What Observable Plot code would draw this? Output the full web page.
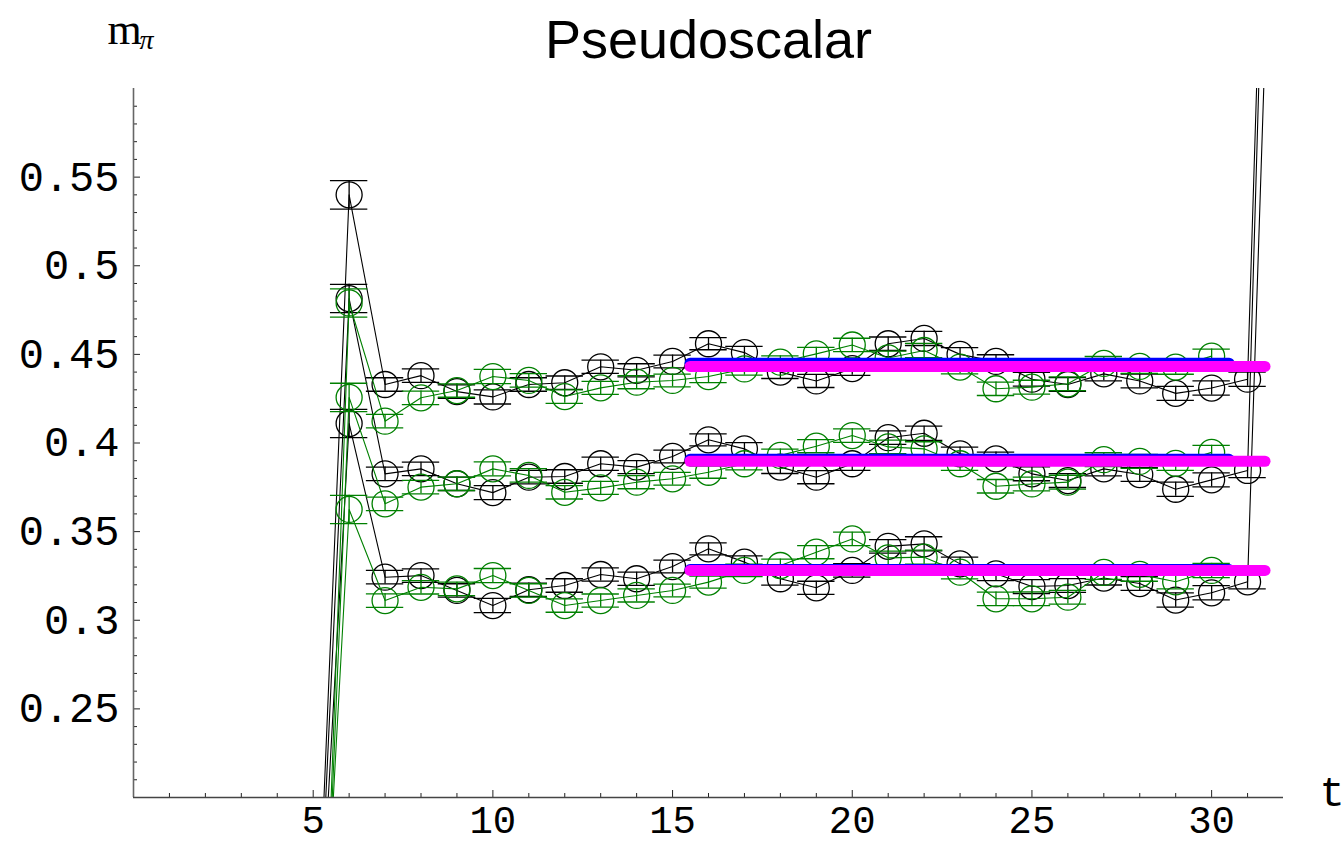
<!DOCTYPE html>
<html><head><meta charset="utf-8">
<script src="https://cdn.jsdelivr.net/npm/d3@7"></script>
<script src="https://cdn.jsdelivr.net/npm/@observablehq/plot@0.6"></script>
<style>body{margin:0;background:#fff;}#chart svg{display:block;}</style>
</head><body><div id="chart"></div>
<script>
// ---- data ----
const tBlack = d3.range(5, 33);   // t = 5 .. 32
const tGreen = d3.range(5, 31);   // t = 5 .. 30

const blackTop = [0.054, 0.540, 0.433, 0.438, 0.429, 0.426, 0.433, 0.434, 0.443, 0.441, 0.446, 0.456, 0.451, 0.440, 0.435, 0.442, 0.456, 0.459, 0.450, 0.446, 0.436, 0.433, 0.439, 0.435, 0.428, 0.431, 0.436, 1.09];
const blackMid = [0.048, 0.4815, 0.3826, 0.3854, 0.377, 0.372, 0.3807, 0.3811, 0.3883, 0.3864, 0.3924, 0.4018, 0.3967, 0.3864, 0.3807, 0.3883, 0.403, 0.4055, 0.3939, 0.3911, 0.3826, 0.3788, 0.3854, 0.3822, 0.3739, 0.3792, 0.3845, 1.08];
const blackLow = [0.047, 0.411, 0.3243, 0.3252, 0.3168, 0.3083, 0.3172, 0.3196, 0.3258, 0.3234, 0.3303, 0.3403, 0.3328, 0.3234, 0.3183, 0.3281, 0.3417, 0.3431, 0.3318, 0.3262, 0.319, 0.3196, 0.3238, 0.3207, 0.3114, 0.3155, 0.3217, 0.94];

const greenTop = [-0.079, 0.479, 0.4123, 0.4255, 0.4296, 0.4375, 0.4353, 0.4262, 0.4311, 0.4343, 0.4353, 0.4375, 0.4418, 0.4456, 0.4503, 0.4553, 0.448, 0.4522, 0.4428, 0.4306, 0.4315, 0.4334, 0.4449, 0.4432, 0.4428, 0.449];
const greenMid = [-0.055, 0.4257, 0.3657, 0.3751, 0.377, 0.3854, 0.3817, 0.3722, 0.3747, 0.3779, 0.3798, 0.3835, 0.3883, 0.393, 0.3982, 0.4042, 0.3978, 0.3967, 0.3883, 0.3756, 0.3769, 0.3779, 0.3906, 0.3896, 0.3885, 0.3947];
const greenLow = [-0.007, 0.3625, 0.3111, 0.3186, 0.3177, 0.3252, 0.3168, 0.3083, 0.3111, 0.314, 0.3168, 0.3215, 0.3281, 0.3309, 0.3384, 0.3459, 0.3352, 0.3356, 0.3271, 0.3121, 0.3121, 0.313, 0.327, 0.3259, 0.3217, 0.3281];

// error bar half-size for t = 5 .. 32
const errByT = [0.008, 0.008, 0.0038, 0.0038, 0.0038, 0.0040, 0.0038, 0.0038, 0.0037, 0.0037, 0.0036, 0.0034, 0.0035, 0.0036, 0.0037, 0.0038, 0.0038, 0.0040, 0.0038, 0.0038, 0.0039, 0.0039, 0.0039, 0.0039, 0.0040, 0.0040, 0.0040, 0.0040];

// plateau fits
const fitBlue = [0.4450, 0.3908, 0.3286];
const fitMagenta = [0.4432, 0.3897, 0.3281];
const fitBlueRange = [15.5, 30.5];
const fitMagentaRange = [15.5, 31.5];

// axis ticks
const xMajor = [5, 10, 15, 20, 25, 30];
const xMinor = d3.range(1, 32).filter(d => d % 5 !== 0);
const yMajor = [0.25, 0.3, 0.35, 0.4, 0.45, 0.5, 0.55];
const yMinor = d3.range(21, 60).filter(d => d % 5 !== 0).map(d => d / 100);

const titleText = "Pseudoscalar";
const xLabel = "t";

// ---- build rows ----
function rows(ts, vals, name) {
  return ts.map((t, i) => ({series: name, t, v: vals[i], e: errByT[t - 5]}));
}
const black = [...rows(tBlack, blackTop, "bA"), ...rows(tBlack, blackMid, "bB"), ...rows(tBlack, blackLow, "bC")];
const green = [...rows(tGreen, greenTop, "gA"), ...rows(tGreen, greenMid, "gB"), ...rows(tGreen, greenLow, "gC")];
const inside = d => d.v >= 0.2 && d.v <= 0.6;

const W = 1343, H = 843, mL = 133, mR = 60, mT = 88, mB = 46;
const innerW = W - mL - mR, innerH = H - mT - mB;
const GREEN = "#008000";

function seriesMarks(data, color) {
  const pts = data.filter(inside);
  return [
    Plot.line(data, {x: "t", y: "v", z: "series", stroke: color, strokeWidth: 1.1, clip: true}),
    Plot.ruleX(pts, {x: "t", y1: d => d.v - d.e, y2: d => d.v + d.e, stroke: color, strokeWidth: 1.3, clip: true}),
    Plot.ruleY(pts, {y: d => d.v + d.e, x1: d => d.t - 0.52, x2: d => d.t + 0.52, stroke: color, strokeWidth: 1.3, clip: true}),
    Plot.ruleY(pts, {y: d => d.v - d.e, x1: d => d.t - 0.52, x2: d => d.t + 0.52, stroke: color, strokeWidth: 1.3, clip: true}),
    Plot.dot(pts, {x: "t", y: "v", r: 13, stroke: color, fill: "none", strokeWidth: 1.3, clip: true})
  ];
}

const chart = Plot.plot({
  width: W, height: H,
  marginLeft: mL, marginRight: mR, marginTop: mT, marginBottom: mB,
  x: {domain: [0, 32], axis: null},
  y: {domain: [0.2, 0.6], axis: null},
  style: {background: "#fff", overflow: "visible"},
  marks: [
    ...seriesMarks(black, "#000"),
    ...seriesMarks(green, GREEN),
    Plot.ruleY(fitBlue, {y: d => d, x1: fitBlueRange[0], x2: fitBlueRange[1], stroke: "#0000ff", strokeWidth: 11, strokeLinecap: "round"}),
    Plot.ruleY(fitMagenta, {y: d => d, x1: fitMagentaRange[0], x2: fitMagentaRange[1], stroke: "#ff00ff", strokeWidth: 11, strokeLinecap: "round"}),
    // axes
    Plot.ruleX(xMinor, {x: d => d, insetTop: innerH - 4, stroke: "#222", strokeWidth: 1}),
    Plot.ruleX(xMajor, {x: d => d, insetTop: innerH - 7, stroke: "#222", strokeWidth: 1}),
    Plot.ruleY(yMinor, {y: d => d, insetRight: innerW - 4, stroke: "#222", strokeWidth: 1}),
    Plot.ruleY(yMajor, {y: d => d, insetRight: innerW - 7, stroke: "#222", strokeWidth: 1}),
    Plot.ruleX([0], {stroke: "#666", strokeWidth: 1.6}),
    Plot.ruleY([0.2], {stroke: "#444", strokeWidth: 1.6}),
    Plot.text(xMajor, {x: d => d, frameAnchor: "bottom", dy: 35, lineAnchor: "bottom", text: d => String(d),
      fontFamily: "Liberation Mono", fontSize: 39, fill: "#000"}),
    Plot.text(yMajor, {y: d => d, frameAnchor: "left", dx: -14, textAnchor: "end", text: d => String(+d.toFixed(2)),
      fontFamily: "Liberation Mono", fontSize: 42, fill: "#000"}),
    Plot.text([xLabel], {frameAnchor: "bottom-right", dx: 36, dy: 8, textAnchor: "start", lineAnchor: "bottom",
      fontFamily: "Liberation Mono", fontSize: 42, fill: "#000"}),
    Plot.text([titleText], {frameAnchor: "top", dy: -31, lineAnchor: "bottom",
      fontFamily: "Liberation Sans", fontSize: 54, fill: "#000"}),
    Plot.text(["m"], {frameAnchor: "top-left", dx: -26, dy: -45, textAnchor: "start", lineAnchor: "bottom",
      fontFamily: "Liberation Serif", fontSize: 44, fill: "#000"}),
    Plot.text(["π"], {frameAnchor: "top-left", dx: 6, dy: -40, textAnchor: "start", lineAnchor: "bottom",
      fontFamily: "Liberation Serif", fontStyle: "italic", fontSize: 28, fill: "#000"})
  ]
});
document.getElementById("chart").appendChild(chart);
</script>
</body></html>
